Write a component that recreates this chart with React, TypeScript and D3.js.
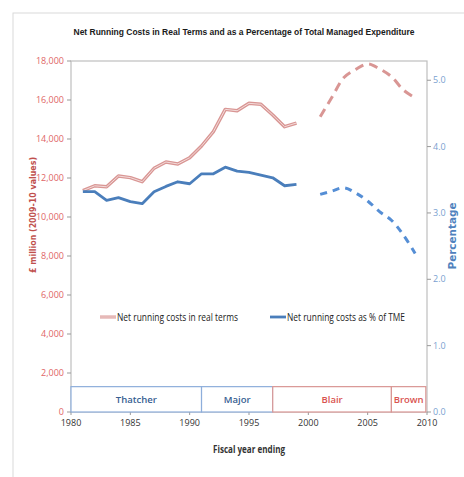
import React from 'react';
import * as d3 from 'd3';

// solid part: 1981-1999, dashed (projections): 2001-2009
const yearsActual = [1981, 1982, 1983, 1984, 1985, 1986, 1987, 1988, 1989, 1990, 1991, 1992, 1993, 1994, 1995, 1996, 1997, 1998, 1999];
const costsActual = [11350, 11600, 11550, 12100, 12020, 11810, 12500, 12820, 12720, 13040, 13640, 14380, 15520, 15450, 15830, 15780, 15230, 14630, 14820];
const pctActual = [3.32, 3.32, 3.19, 3.23, 3.17, 3.14, 3.32, 3.40, 3.47, 3.44, 3.59, 3.59, 3.69, 3.63, 3.61, 3.57, 3.53, 3.41, 3.43];

const yearsPlan = [2001, 2002, 2003, 2004, 2005, 2006, 2007, 2008, 2009];
const costsPlan = [15140, 16150, 17150, 17570, 17850, 17600, 17200, 16520, 16100];
const pctPlan = [3.28, 3.33, 3.38, 3.30, 3.18, 3.02, 2.89, 2.67, 2.39];

const leftTicks = [0, 2000, 4000, 6000, 8000, 10000, 12000, 14000, 16000, 18000];
const rightTicks = [0, 1, 2, 3, 4, 5];
const xTicks = [1980, 1985, 1990, 1995, 2000, 2005, 2010];

const pmNames = ['Thatcher', 'Major', 'Blair', 'Brown'];
const pmStart = [1980, 1991, 1997, 2007];
const pmEnd = [1991, 1997, 2007, 2009.9];
const pmParty = ['con', 'con', 'lab', 'lab'];

const narrow = "'Liberation Sans Narrow', 'Open Sans', sans-serif";

export default function App() {
  const W = 464, H = 477;
  const left = 71, right = 427, top = 61, bottom = 412;

  const x = d3.scaleLinear().domain([1980, 2010]).range([left, right]);
  const yL = d3.scaleLinear().domain([0, 18000]).range([bottom, top]);
  const yR = d3.scaleLinear().domain([0, 5.29]).range([bottom, top]);

  const lineL = d3.line<[number, number]>().x(d => x(d[0])).y(d => yL(d[1]));
  const lineR = d3.line<[number, number]>().x(d => x(d[0])).y(d => yR(d[1]));
  const smoothL = d3.line<[number, number]>().x(d => x(d[0])).y(d => yL(d[1])).curve(d3.curveCatmullRom);
  const smoothR = d3.line<[number, number]>().x(d => x(d[0])).y(d => yR(d[1])).curve(d3.curveCatmullRom);

  const zip = (a: number[], b: number[]) => a.map((v, i) => [v, b[i]] as [number, number]);

  const red = '#d99694';
  const blue = '#4a7ebb';
  const pmTop = yL(1300);

  return (
    <svg width={W} height={H} style={{ position: 'absolute', left: 0, top: 0, background: '#fff' }}>
      <rect x={13} y={13} width={W} height={H} fill="none" stroke="#d9d9d9" strokeWidth={1} />

      <text x={244} y={35} textAnchor="middle" fontFamily="'Liberation Sans', Arial, sans-serif" fontWeight="bold" fontSize={8.5}
        textLength={341} lengthAdjust="spacingAndGlyphs" fill="#1a1a1a">
        Net Running Costs in Real Terms and as a Percentage of Total Managed Expenditure
      </text>

      {/* plot frame */}
      <rect x={left} y={top} width={right - left} height={bottom - top} fill="none" stroke="#bfbfbf" strokeWidth={1.2} />

      {/* left axis */}
      {leftTicks.map(t => (
        <g key={'l' + t}>
          <line x1={left - 4} x2={left} y1={yL(t)} y2={yL(t)} stroke="#999" />
          <text x={left - 7} y={yL(t) + 3} textAnchor="end" fontFamily={narrow} fontSize={9} fill="#e06666">
            {d3.format(',')(t)}
          </text>
        </g>
      ))}
      {/* right axis */}
      {rightTicks.map(t => (
        <g key={'r' + t}>
          <line x1={right} x2={right + 4} y1={yR(t)} y2={yR(t)} stroke="#999" />
          <text x={right + 6} y={yR(t) + 3} fontFamily={narrow} fontSize={9} fill="#7a9fd0">
            {t.toFixed(1)}
          </text>
        </g>
      ))}
      {/* x axis */}
      {xTicks.map(t => (
        <g key={'x' + t}>
          <line x1={x(t)} x2={x(t)} y1={bottom} y2={bottom + 3} stroke="#999" />
          <text x={x(t)} y={bottom + 14} textAnchor="middle" fontFamily={narrow} fontSize={9} fill="#333">
            {t}
          </text>
        </g>
      ))}

      <text transform={`translate(36, 215) rotate(-90)`} textAnchor="middle" fontFamily="'DejaVu Sans', sans-serif"
        fontWeight="bold" fontSize={9} fill="#c0504d" textLength={116} lengthAdjust="spacingAndGlyphs">
        £ million (2009-10 values)
      </text>
      <text transform={`translate(456, 236) rotate(-90)`} textAnchor="middle" fontFamily="'DejaVu Sans', sans-serif"
        fontWeight="bold" fontSize={10} fill="#4f81bd" textLength={67} lengthAdjust="spacingAndGlyphs">
        Percentage
      </text>
      <text x={249} y={453} textAnchor="middle" fontFamily={narrow} fontWeight="bold" fontSize={11}
        fill="#333" textLength={72} lengthAdjust="spacingAndGlyphs">
        Fiscal year ending
      </text>

      {/* prime minister bands */}
      {pmNames.map((n, i) => (
        <g key={n}>
          <rect x={x(pmStart[i])} y={pmTop} width={x(pmEnd[i]) - x(pmStart[i])} height={bottom - pmTop}
            fill="#fff" stroke={pmParty[i] === 'con' ? '#8eaedb' : '#d99694'} strokeWidth={1.2} />
          <text x={(x(pmStart[i]) + x(pmEnd[i])) / 2} y={(pmTop + bottom) / 2 + 3.5} textAnchor="middle"
            fontFamily={narrow} fontWeight={600} fontSize={9.5}
            fill={pmParty[i] === 'con' ? '#376092' : '#d9534f'}>
            {n}
          </text>
        </g>
      ))}

      {/* series */}
      <path d={lineL(zip(yearsActual, costsActual)) || ''} fill="none" stroke={red} strokeWidth={3.4} strokeLinejoin="round" />
      <path d={lineL(zip(yearsActual, costsActual)) || ''} fill="none" stroke="#f3dcdb" strokeWidth={1} strokeLinejoin="round" />
      <path d={smoothL(zip(yearsPlan, costsPlan)) || ''} fill="none" stroke={red} strokeWidth={3} strokeDasharray="9 6" />

      <path d={lineR(zip(yearsActual, pctActual)) || ''} fill="none" stroke={blue} strokeWidth={2.8} strokeLinejoin="round" />
      <path d={smoothR(zip(yearsPlan, pctPlan)) || ''} fill="none" stroke="#558ed5" strokeWidth={3} strokeDasharray="7 6" />

      {/* legend */}
      <line x1={100} x2={116} y1={317} y2={317} stroke={red} strokeWidth={3} />
      <line x1={100} x2={116} y1={317} y2={317} stroke="#f3dcdb" strokeWidth={1} />
      <text x={117} y={321} fontFamily={narrow} fontSize={11} fill="#222" textLength={121} lengthAdjust="spacingAndGlyphs">
        Net running costs in real terms
      </text>
      <line x1={270} x2={286} y1={317} y2={317} stroke={blue} strokeWidth={2.8} />
      <text x={287} y={321} fontFamily={narrow} fontSize={11} fill="#222" textLength={118} lengthAdjust="spacingAndGlyphs">
        Net running costs as % of TME
      </text>
    </svg>
  );
}
